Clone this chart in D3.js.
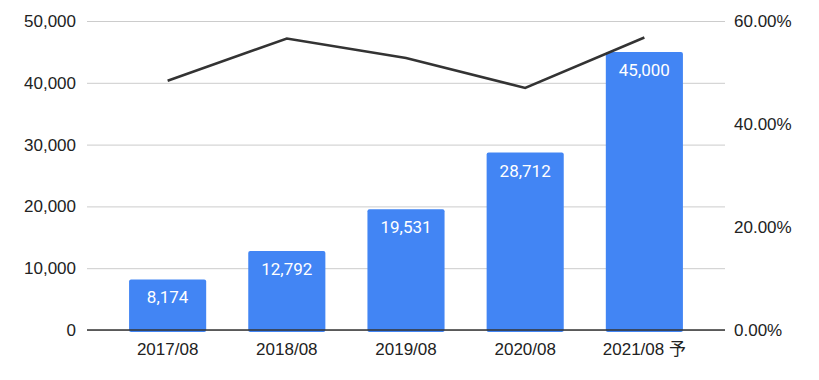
<!DOCTYPE html>
<html>
<head>
<meta charset="utf-8">
<script src="https://cdn.jsdelivr.net/npm/d3@7"></script>
<style>
  body { margin: 0; background: #fff; }
  svg { display: block; }
</style>
</head>
<body>
<svg></svg>
<script>
let categories = ['2017/08', '2018/08', '2019/08', '2020/08', '2021/08 予']
let barValues = [8174, 12792, 19531, 28712, 45000]
let lineValues = [0.484, 0.566, 0.528, 0.470, 0.568]
let leftTicks = [0, 10000, 20000, 30000, 40000, 50000]
let rightTicks = [0, 0.2, 0.4, 0.6]

let width = 819
let height = 380
let plotLeft = 87
let plotRight = 725
let plotTop = 21
let plotBottom = 330

let tickFont = '"Liberation Sans", Arial, "Noto Sans CJK JP", sans-serif'

let svg = d3.select('svg').attr('width', width).attr('height', height)

let xScale = d3.scaleBand()
  .domain(categories)
  .range([plotLeft, plotRight])
  .padding(0.353)

let yScale = d3.scaleLinear().domain([0, 50000]).range([plotBottom, plotTop])
let y2Scale = d3.scaleLinear().domain([0, 0.6]).range([plotBottom, plotTop])

// gridlines + left labels
let yAxis = d3.axisLeft(yScale)
  .tickValues(leftTicks)
  .tickFormat(d3.format(','))
  .tickSize(-(plotRight - plotLeft))
  .tickPadding(11)

let gy = svg.append('g')
  .attr('transform', 'translate(' + plotLeft + ',0)')
  .call(yAxis)
gy.select('.domain').remove()
gy.selectAll('line').attr('stroke', '#cccccc').attr('stroke-width', 1)
gy.selectAll('text')
  .attr('fill', '#222')
  .style('font-family', tickFont)
  .style('font-size', '17px')

// right labels
let y2Axis = d3.axisRight(y2Scale)
  .tickValues(rightTicks)
  .tickFormat(d3.format('.2%'))
  .tickSize(0)
  .tickPadding(9)

let gy2 = svg.append('g')
  .attr('transform', 'translate(' + plotRight + ',0)')
  .call(y2Axis)
gy2.select('.domain').remove()
gy2.selectAll('text')
  .attr('fill', '#222')
  .style('font-family', tickFont)
  .style('font-size', '17px')

// bars
svg.append('g')
  .selectAll('rect')
  .data(barValues)
  .enter()
  .append('rect')
  .attr('x', (d, i) => xScale(categories[i]))
  .attr('y', (d) => yScale(d))
  .attr('width', xScale.bandwidth())
  .attr('height', (d) => plotBottom - yScale(d) + 2)
  .attr('rx', 2)
  .attr('fill', '#4285f4')

// bar labels
svg.append('g')
  .selectAll('text')
  .data(barValues)
  .enter()
  .append('text')
  .attr('x', (d, i) => xScale(categories[i]) + xScale.bandwidth() / 2)
  .attr('y', (d) => yScale(d) + 24)
  .attr('text-anchor', 'middle')
  .attr('fill', '#ffffff')
  .style('font-family', 'Roboto, sans-serif')
  .style('font-size', '17px')
  .text((d) => d3.format(',')(d))

// x axis
let xAxis = d3.axisBottom(xScale).tickSize(0).tickPadding(13)
let gx = svg.append('g')
  .attr('transform', 'translate(0,' + plotBottom + ')')
  .call(xAxis)
gx.select('.domain').attr('stroke', '#333333').attr('stroke-width', 1.5)
  .attr('d', 'M' + plotLeft + ',0H' + plotRight)
gx.selectAll('text')
  .attr('fill', '#222')
  .style('font-family', tickFont)
  .style('font-size', '17px')

// line
let line = d3.line()
  .x((d, i) => xScale(categories[i]) + xScale.bandwidth() / 2)
  .y((d) => y2Scale(d))

svg.append('path')
  .datum(lineValues)
  .attr('d', line)
  .attr('fill', 'none')
  .attr('stroke', '#333333')
  .attr('stroke-width', 2.5)
</script>
</body>
</html>
